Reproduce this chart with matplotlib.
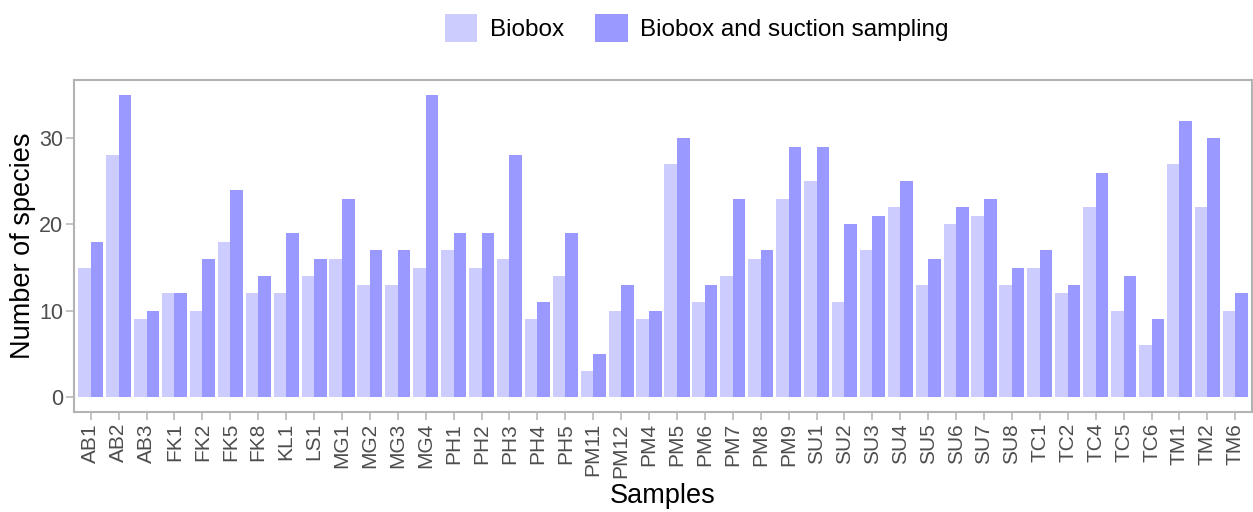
import numpy as np
import matplotlib
matplotlib.use('Agg')
import matplotlib.pyplot as plt

plt.rcParams['font.family'] = ['Liberation Sans', 'DejaVu Sans']

# Species counts per sample
samples = ['AB1', 'AB2', 'AB3', 'FK1', 'FK2', 'FK5', 'FK8', 'KL1', 'LS1', 'MG1',
           'MG2', 'MG3', 'MG4', 'PH1', 'PH2', 'PH3', 'PH4', 'PH5', 'PM11', 'PM12',
           'PM4', 'PM5', 'PM6', 'PM7', 'PM8', 'PM9', 'SU1', 'SU2', 'SU3', 'SU4',
           'SU5', 'SU6', 'SU7', 'SU8', 'TC1', 'TC2', 'TC4', 'TC5', 'TC6', 'TM1',
           'TM2', 'TM6']
biobox = [15, 28, 9, 12, 10, 18, 12, 12, 14, 16,
          13, 13, 15, 17, 15, 16, 9, 14, 3, 10,
          9, 27, 11, 14, 16, 23, 25, 11, 17, 22,
          13, 20, 21, 13, 15, 12, 22, 10, 6, 27,
          22, 10]
biobox_suction = [18, 35, 10, 12, 16, 24, 14, 19, 16, 23,
                  17, 17, 35, 19, 19, 28, 11, 19, 5, 13,
                  10, 30, 13, 23, 17, 29, 29, 20, 21, 25,
                  16, 22, 23, 15, 17, 13, 26, 14, 9, 32,
                  30, 12]
yticks = [0, 10, 20, 30]

light = '#CCCCFF'
dark = '#9999FF'
grey = '#B3B3B3'

W, H = 1253, 512
fig = plt.figure(figsize=(W / 100, H / 100), dpi=100)
ax = fig.add_axes([74 / W, (H - 412) / H, (1252 - 74) / W, (412 - 80) / H])

x = np.arange(len(samples))
w = 0.45
ax.bar(x - w / 2, biobox, w, color=light, label='Biobox')
ax.bar(x + w / 2, biobox_suction, w, color=dark, label='Biobox and suction sampling')

ax.set_xlim(-0.6, len(samples) - 1 + 0.6)
ax.set_ylim(-1.75, 36.75)
ax.set_xticks(x)
ax.set_xticklabels(samples, rotation=90, fontsize=15, color='#4D4D4D')
ax.set_yticks(yticks)
ax.set_yticklabels([str(t) for t in yticks], fontsize=15.5, color='#4D4D4D')
ax.tick_params(axis='both', direction='out', length=6, width=1.1, color=grey, pad=2)

for s in ax.spines.values():
    s.set_color(grey)
    s.set_linewidth(1.5)

ax.set_xlabel('Samples', fontsize=19.5, labelpad=4)
ax.set_ylabel('Number of species', fontsize=19.5, labelpad=2)

fig.legend(loc='center', bbox_to_anchor=(0.556, 1 - 28 / H), ncol=2, frameon=False,
           fontsize=17.5, handlelength=1.35, handleheight=1.45, handletextpad=0.5,
           columnspacing=1.3, borderaxespad=0)

fig.savefig('out.png', dpi=100)
